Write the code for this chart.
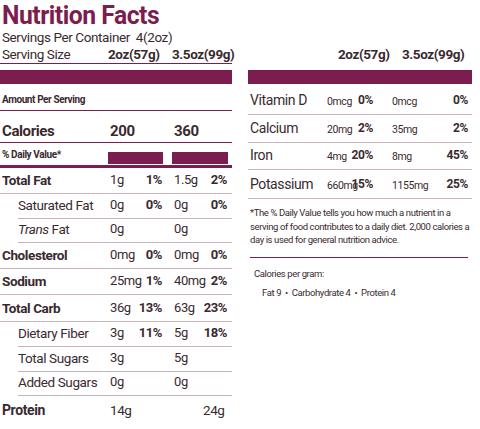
<!DOCTYPE html><html><head><meta charset="utf-8">
<script src="https://cdn.jsdelivr.net/npm/chart.js@4"></script>
<style>
body{margin:0;width:480px;height:429px;background:#fff;font-family:Roboto,"Liberation Sans",sans-serif;color:#3a2a30;position:relative;overflow:hidden}
.t{position:absolute;white-space:nowrap;font-size:13.5px;letter-spacing:-0.4px}
.ln{position:absolute;background:#7b1d4e;height:1px}
.gl{position:absolute;background:#c9b4be;height:1px}
.bar{position:absolute;background:#7b1d4e}
</style></head><body>
<div id="root"></div>
<script>
const P='#7b1d4e';
const leftRows=[
 ['Total Fat','1g','1%','1.5g','2%',true,0],
 ['Saturated Fat','0g','0%','0g','0%',false,1],
 ['Trans Fat','0g','','0g','',false,2],
 ['Cholesterol','0mg','0%','0mg','0%',true,0],
 ['Sodium','25mg','1%','40mg','2%',true,0],
 ['Total Carb','36g','13%','63g','23%',true,0],
 ['Dietary Fiber','3g','11%','5g','18%',false,1],
 ['Total Sugars','3g','','5g','',false,1],
 ['Added Sugars','0g','','0g','',false,1]];
const rowY=[172,197,221,247,273,300,325,350,374];
const rightRows=[['Vitamin D','0mcg','0%','0mcg','0%'],['Calcium','20mg','2%','35mg','2%'],['Iron','4mg','20%','8mg','45%'],['Potassium','660mg','15%','1155mg','25%']];
const rightY=[92,120,147,176];
let h='';
const t=(x,y,s,st='')=>h+=`<div class="t" style="left:${x}px;top:${y}px;${st}">${s}</div>`;
const tr=(r,y,s,st='')=>h+=`<div class="t" style="right:${480-r}px;top:${y}px;${st}">${s}</div>`;
const bar=(x,y,w,hh)=>h+=`<div class="bar" style="left:${x}px;top:${y}px;width:${w}px;height:${hh}px"></div>`;
const ln=(x,y,w)=>h+=`<div class="ln" style="left:${x}px;top:${y}px;width:${w}px"></div>`;
const gl=(x,y,w)=>h+=`<div class="gl" style="left:${x}px;top:${y}px;width:${w}px"></div>`;
t(2,0,'Nutrition Facts',`font-size:26px;font-weight:bold;color:${P};letter-spacing:-0.5px;transform:scaleX(0.95);transform-origin:left`);
t(2,29,'Servings Per Container&nbsp; 4(2oz)');
t(2,46,'Serving Size');
t(108,46,'2oz(57g)','font-weight:bold');t(172,46,'3.5oz(99g)','font-weight:bold');
t(338,46,'2oz(57g)','font-weight:bold');t(402,46,'3.5oz(99g)','font-weight:bold');
ln(0,63,232);
bar(0,70,232,14);bar(248,70,224,14);
t(2,94,'Amount Per Serving','font-size:10px;font-weight:bold');
ln(0,110,232);
t(2,122,'Calories','font-size:15px;font-weight:bold');t(110,122,'200','font-size:15px;font-weight:bold');t(174,122,'360','font-size:15px;font-weight:bold');
ln(0,142,232);
t(2,149,'% Daily Value*','font-size:10px;font-weight:bold');
bar(108,152,55,12);bar(172,152,56,12);
bar(0,165,232,3);
leftRows.forEach((r,i)=>{const y=rowY[i];
 t(r[6]?18:2,y,r[6]==2?'<i>Trans</i> Fat':r[0],r[5]?'font-weight:bold':'');
 t(110,y,r[1],'font-size:13px');if(r[2])tr(162,y,r[2],'font-weight:bold;font-size:13px');
 t(174,y,r[3],'font-size:13px');if(r[4])tr(227,y,r[4],'font-weight:bold;font-size:13px');
 gl(r[6]?18:0,y+21,232-(r[6]?18:0));
});
t(2,402,'Protein','font-weight:bold;font-size:14px');t(110,402,'14g');t(203,402,'24g');
rightRows.forEach((r,i)=>{const y=rightY[i];
 t(250,y,r[0],'font-size:14px');t(327,y+3,r[1],'font-size:10.5px');tr(373,y+1,r[2],'font-weight:bold;font-size:12px');
 t(392,y+3,r[3],'font-size:10.5px');tr(468,y+1,r[4],'font-weight:bold;font-size:12px');
 gl(248,y+22,224);
});
h+=`<div class="t" style="left:250px;top:206px;font-size:9.5px;white-space:normal;width:222px;line-height:13.5px">*The % Daily Value tells you how much a nutrient in a serving of food contributes to a daily diet. 2,000 calories a day is used for general nutrition advice.</div>`;
ln(250,257,218);
t(254,268,'Calories per gram:','font-size:9.5px');
t(262,287,'Fat 9 &nbsp;•&nbsp; Carbohydrate 4 &nbsp;•&nbsp; Protein 4','font-size:9.5px');
document.getElementById('root').innerHTML=h;
</script></body></html>
